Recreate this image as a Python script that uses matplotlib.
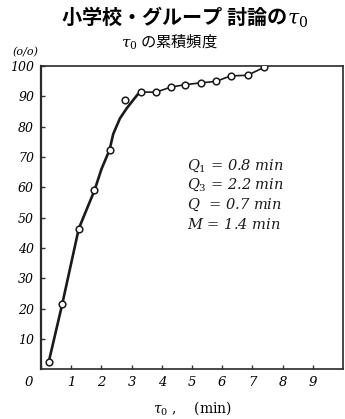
import matplotlib
matplotlib.use("Agg")
import matplotlib.pyplot as plt

plt.rcParams['font.family'] = ['Noto Sans CJK JP', 'DejaVu Sans']
plt.rcParams['mathtext.fontset'] = 'dejavuserif'

# observed cumulative frequencies (tau_0 in min, cumulative %)
tau = [0.25, 0.7, 1.25, 1.77, 2.27, 2.77, 3.32, 3.8, 4.3, 4.77, 5.29, 5.8, 6.28, 6.84, 7.38]
cum = [2.2, 21.4, 46.4, 59.0, 72.4, 89.0, 91.5, 91.4, 93.1, 93.9, 94.5, 95.0, 96.8, 97.0, 99.6]

# hand-drawn fitted curve (rising part)
fit_x = [0.25, 0.7, 1.25, 1.77, 2.0, 2.27, 2.39, 2.61, 2.83, 3.05, 3.21, 3.32]
fit_y = [2.2, 21.4, 46.4, 59.0, 66.0, 72.4, 77.6, 82.7, 86.0, 88.8, 90.8, 91.5]

# quartile annotations
stats = ["$Q_1$ = 0.8 min", "$Q_3$ = 2.2 min", "$Q$  = 0.7 min", "$M$ = 1.4 min"]

xticks = [0, 1, 2, 3, 4, 5, 6, 7, 8, 9]
yticks = [10, 20, 30, 40, 50, 60, 70, 80, 90, 100]

fig = plt.figure(figsize=(3.45, 4.19), dpi=100)
ax = fig.add_axes([0.119, 0.119, 0.875, 0.723])

hand = dict(family=['DejaVu Serif'], style='italic')

ax.plot(fit_x, fit_y, color='#1a1a1a', lw=1.9, solid_capstyle='round',
        solid_joinstyle='round', zorder=2)
ax.plot(tau[6:], cum[6:], color='#1a1a1a', lw=1.2, zorder=2)
ax.plot(tau, cum, 'o', ms=4.8, mfc='white', mec='#1a1a1a', mew=1.1, zorder=3)

ax.set_xlim(0, 10)
ax.set_ylim(0, 100)
ax.set_xticks(xticks)
ax.set_xticklabels([''] + [str(t) for t in xticks[1:]], fontsize=9.5, **hand)
ax.set_yticks(yticks)
ax.set_yticklabels([str(t) for t in yticks], fontsize=9, **hand)
ax.tick_params(direction='in', length=3, width=1, color='#333333', pad=5)
for s in ax.spines.values():
    s.set_linewidth(1.2)
    s.set_color('#2a2a2a')
ax.spines['left'].set_linewidth(1.6)

ax.text(-0.04, -0.045, '0', transform=ax.transAxes, ha='center', va='center', fontsize=9.5, **hand)
ax.text(-0.053, 1.045, '(o/o)', transform=ax.transAxes, ha='center', va='center', fontsize=8, **hand)

for i, s in enumerate(stats):
    ax.text(4.85, 67.3 - i * 6.5, s, ha='left', va='center', fontsize=10.5,
            family=['DejaVu Serif'], style='italic', color='#1a1a1a')

ax.set_xlabel(r'$\tau_0$ ,    (min)', fontsize=10, family=['DejaVu Serif'], labelpad=7)

fig.text(0.535, 0.958, '小学校・グループ 討論の$\\tau_0$', ha='center', va='center',
         fontsize=14.5, fontweight='bold')
fig.text(0.49, 0.898, '$\\tau_0$ の累積頻度', ha='center', va='center', fontsize=11)

fig.savefig('out.png', dpi=100)
